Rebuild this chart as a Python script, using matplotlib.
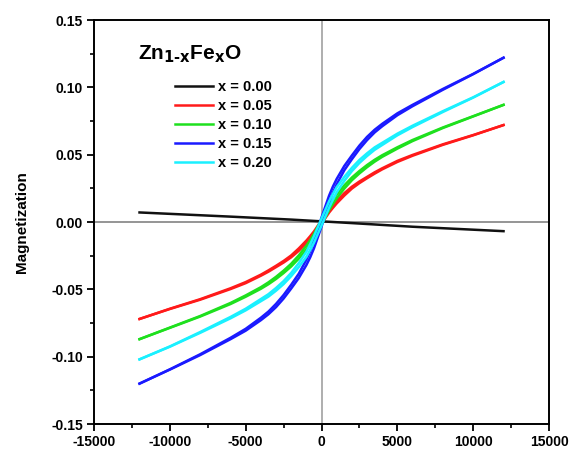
import matplotlib
matplotlib.use("Agg")
import matplotlib.pyplot as plt
from matplotlib.ticker import MultipleLocator

plt.rcParams['font.family'] = ['Liberation Sans', 'DejaVu Sans']
plt.rcParams['font.weight'] = 'bold'
plt.rcParams['axes.unicode_minus'] = False

# Applied field grid (Oe)
field = [-12000, -10000, -8000, -6000, -5000, -4000, -3500, -3000, -2500, -2000, -1500, -1000, -750, -500, 0,
         500, 750, 1000, 1500, 2000, 2500, 3000, 3500, 4000, 5000, 6000, 8000, 10000, 12000]

# x = 0.00 (diamagnetic, single line)
field_x000 = [-12000, -6000, -2000, 0, 2000, 6000, 12000]
m_x000 = [0.0071, 0.0040, 0.0018, 0.0005, -0.0008, -0.0035, -0.0068]

# x = 0.05
m_x005_down = [-0.072, -0.0644, -0.0573, -0.0492, -0.0446, -0.0391, -0.0359, -0.0325, -0.0289, -0.0248, -0.0196, -0.0138, -0.0105, -0.0070, 0.0013,
               0.0090, 0.0125, 0.0158, 0.0214, 0.0262, 0.0301, 0.0335, 0.0369, 0.0399, 0.0454, 0.0498, 0.0577, 0.0646, 0.072]
m_x005_up = [-0.072, -0.0646, -0.0577, -0.0498, -0.0454, -0.0399, -0.0369, -0.0335, -0.0301, -0.0262, -0.0214, -0.0158, -0.0125, -0.0090, -0.0013,
             0.0070, 0.0105, 0.0138, 0.0196, 0.0248, 0.0289, 0.0325, 0.0359, 0.0391, 0.0446, 0.0492, 0.0573, 0.0644, 0.072]

# x = 0.10
m_x010_down = [-0.087, -0.0784, -0.0698, -0.0601, -0.0545, -0.0484, -0.0448, -0.0407, -0.0361, -0.0310, -0.0248, -0.0176, -0.0135, -0.0088, 0.0019,
               0.0122, 0.0165, 0.0204, 0.0272, 0.0330, 0.0379, 0.0423, 0.0462, 0.0496, 0.0555, 0.0609, 0.0702, 0.0786, 0.087]
m_x010_up = [-0.087, -0.0786, -0.0702, -0.0609, -0.0555, -0.0496, -0.0462, -0.0423, -0.0379, -0.0330, -0.0272, -0.0204, -0.0165, -0.0122, -0.0019,
             0.0088, 0.0135, 0.0176, 0.0248, 0.0310, 0.0361, 0.0407, 0.0448, 0.0484, 0.0545, 0.0601, 0.0698, 0.0784, 0.087]

# x = 0.15
m_x015_down = [-0.120, -0.1094, -0.0982, -0.0860, -0.0793, -0.0711, -0.0665, -0.0608, -0.0542, -0.0466, -0.0384, -0.0280, -0.0217, -0.0144, 0.0034,
               0.0196, 0.0263, 0.0320, 0.0416, 0.0494, 0.0568, 0.0632, 0.0685, 0.0729, 0.0807, 0.0870, 0.0988, 0.1100, 0.122]
m_x015_up = [-0.120, -0.1096, -0.0988, -0.0870, -0.0807, -0.0729, -0.0685, -0.0632, -0.0568, -0.0494, -0.0416, -0.0320, -0.0263, -0.0196, -0.0034,
             0.0144, 0.0217, 0.0280, 0.0384, 0.0466, 0.0542, 0.0608, 0.0665, 0.0711, 0.0793, 0.0860, 0.0982, 0.1098, 0.122]

# x = 0.20
m_x020_down = [-0.102, -0.0924, -0.0817, -0.0705, -0.0644, -0.0572, -0.0536, -0.0490, -0.0439, -0.0378, -0.0305, -0.0221, -0.0166, -0.0106, 0.0026,
               0.0154, 0.0208, 0.0259, 0.0335, 0.0402, 0.0461, 0.0510, 0.0554, 0.0588, 0.0656, 0.0715, 0.0823, 0.0926, 0.104]
m_x020_up = [-0.102, -0.0926, -0.0823, -0.0715, -0.0656, -0.0588, -0.0554, -0.0510, -0.0461, -0.0402, -0.0335, -0.0259, -0.0208, -0.0154, -0.0026,
             0.0106, 0.0166, 0.0221, 0.0305, 0.0378, 0.0439, 0.0490, 0.0536, 0.0572, 0.0644, 0.0705, 0.0817, 0.0924, 0.104]

labels = ['x = 0.00', 'x = 0.05', 'x = 0.10', 'x = 0.15', 'x = 0.20']
colors = ['#111111', '#ff1a1a', '#1ee01e', '#1a1aff', '#1af0ff']

fig = plt.figure(figsize=(5.74, 4.53), dpi=100)
ax = fig.add_axes([0.1638, 0.064, 0.7927, 0.8918])

ax.axhline(0, color='#8c8c8c', lw=1.3, zorder=1)
ax.axvline(0, color='#a8a8a8', lw=1.3, zorder=1)

lw = 1.8
ax.plot(field_x000, m_x000, color=colors[0], lw=lw, label=labels[0], zorder=3)
loops = [(m_x005_down, m_x005_up), (m_x010_down, m_x010_up),
         (m_x015_down, m_x015_up), (m_x020_down, m_x020_up)]
for (down, up), lab, col in zip(loops, labels[1:], colors[1:]):
    ax.plot(field, down, color=col, lw=lw, label=lab, zorder=3)
    ax.plot(field, up, color=col, lw=lw, zorder=3)

ax.set_xlim(-15000, 15000)
ax.set_ylim(-0.15, 0.15)
ax.xaxis.set_major_locator(MultipleLocator(5000))
ax.xaxis.set_minor_locator(MultipleLocator(2500))
ax.yaxis.set_major_locator(MultipleLocator(0.05))
ax.yaxis.set_minor_locator(MultipleLocator(0.025))
ax.yaxis.set_major_formatter(plt.FuncFormatter(lambda v, p: f"{v:.2f}".replace('\u2212', '-')))
ax.xaxis.set_major_formatter(plt.FuncFormatter(lambda v, p: f"{v:.0f}"))
ax.tick_params(which='major', direction='out', length=5, width=1.3, labelsize=10, pad=3)
ax.tick_params(which='minor', direction='out', length=3, width=1.2)
for lab in ax.get_xticklabels() + ax.get_yticklabels():
    lab.set_fontweight('bold')
for s in ax.spines.values():
    s.set_linewidth(1.4)

ax.set_ylabel('Magnetization', fontsize=11, fontweight='bold', labelpad=16)

ax.text(0.097, 0.915, r'Zn$_{\mathbf{1\text{-}x}}$Fe$_{\mathbf{x}}$O', transform=ax.transAxes,
        fontsize=15, fontweight='bold', ha='left', va='center')

leg = ax.legend(loc='upper left', bbox_to_anchor=(0.15, 0.885), frameon=False,
                handlelength=2.6, handletextpad=0.3, labelspacing=0.35,
                prop={'weight': 'bold', 'size': 10.5})

fig.savefig('out.png', dpi=100)
